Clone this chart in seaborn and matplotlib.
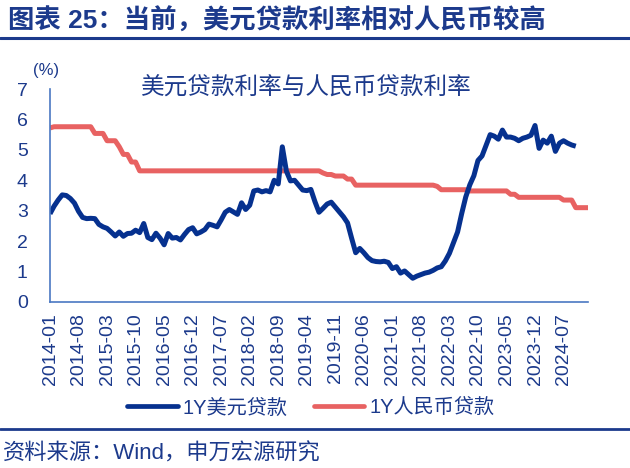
import numpy as np
import pandas as pd
import matplotlib
matplotlib.use("Agg")
import matplotlib.pyplot as plt
import seaborn as sns
from matplotlib.lines import Line2D

# ---------------- data ----------------
months = pd.date_range("2014-01-01", periods=133, freq="MS").strftime("%Y-%m").tolist()

usd_loan = [
    2.90, 3.15, 3.35, 3.52, 3.50, 3.40, 3.25, 2.98, 2.78, 2.74, 2.75, 2.74,   # 2014
    2.55, 2.47, 2.42, 2.30, 2.17, 2.30, 2.16, 2.25, 2.26, 2.36, 2.28, 2.58,   # 2015
    2.12, 2.05, 2.26, 2.10, 1.88, 2.25, 2.10, 2.12, 2.04, 2.22, 2.38, 2.44,   # 2016
    2.24, 2.30, 2.38, 2.56, 2.52, 2.47, 2.70, 2.95, 3.04, 2.96, 2.88, 3.26,   # 2017
    3.04, 3.18, 3.65, 3.68, 3.62, 3.66, 3.62, 4.00, 3.88, 5.10, 4.30, 3.98,   # 2018
    4.00, 3.84, 3.68, 3.66, 3.70, 3.30, 2.95, 3.08, 3.22, 3.28, 3.12, 2.96,   # 2019
    2.80, 2.60, 2.10, 1.62, 1.76, 1.62, 1.46, 1.36, 1.33, 1.32, 1.34, 1.30,   # 2020
    1.10, 1.16, 0.95, 1.02, 0.90, 0.78, 0.85, 0.90, 0.95, 0.98, 1.04, 1.12,   # 2021
    1.16, 1.35, 1.60, 1.95, 2.30, 2.90, 3.45, 3.85, 4.15, 4.65, 4.80, 5.15,   # 2022
    5.50, 5.45, 5.35, 5.65, 5.42, 5.42, 5.38, 5.30, 5.38, 5.42, 5.48, 5.80,   # 2023
    5.05, 5.32, 5.22, 5.45, 4.95, 5.22, 5.30, 5.22, 5.16, 5.12,               # 2024
]

cny_loan = [
    5.72, 5.76, 5.76, 5.76, 5.76, 5.76, 5.76, 5.76, 5.76, 5.76, 5.76, 5.54,   # 2014
    5.54, 5.54, 5.30, 5.30, 5.30, 5.10, 4.85, 4.85, 4.60, 4.60, 4.31, 4.31,   # 2015
    4.31, 4.31, 4.31, 4.31, 4.31, 4.31, 4.31, 4.31, 4.31, 4.31, 4.31, 4.31,   # 2016
    4.31, 4.31, 4.31, 4.31, 4.31, 4.31, 4.31, 4.31, 4.31, 4.31, 4.31, 4.31,   # 2017
    4.31, 4.31, 4.31, 4.31, 4.31, 4.31, 4.31, 4.31, 4.31, 4.31, 4.31, 4.31,   # 2018
    4.31, 4.31, 4.31, 4.31, 4.31, 4.31, 4.31, 4.24, 4.19, 4.19, 4.14, 4.14,   # 2019
    4.14, 4.04, 4.04, 3.84, 3.84, 3.84, 3.84, 3.84, 3.84, 3.84, 3.84, 3.84,   # 2020
    3.84, 3.84, 3.84, 3.84, 3.84, 3.84, 3.84, 3.84, 3.84, 3.84, 3.84, 3.80,   # 2021
    3.69, 3.69, 3.69, 3.69, 3.69, 3.69, 3.69, 3.65, 3.65, 3.65, 3.65, 3.65,   # 2022
    3.65, 3.65, 3.65, 3.65, 3.65, 3.54, 3.54, 3.44, 3.44, 3.44, 3.44, 3.44,   # 2023
    3.44, 3.44, 3.44, 3.44, 3.44, 3.44, 3.35, 3.35, 3.35, 3.10, 3.10, 3.10,   # 2024
    3.10,                                                                     # 2025
]

tick_labels = ["2014-01", "2014-08", "2015-03", "2015-10", "2016-05", "2016-12",
               "2017-07", "2018-02", "2018-09", "2019-04", "2019-11", "2020-06",
               "2021-01", "2021-08", "2022-03", "2022-10", "2023-05", "2023-12",
               "2024-07"]

series_names = ["1Y美元贷款", "1Y人民币贷款"]
main_title = "图表 25：当前，美元贷款利率相对人民币较高"
chart_title = "美元贷款利率与人民币贷款利率"
source_text = "资料来源：Wind，申万宏源研究"

# ---------------- style ----------------
NAVY = "#1C3A8C"
BLUE = "#06318F"
RED = "#E86262"
AXIS = "#4A78C2"

sns.set_theme(style="white")
plt.rcParams["font.family"] = ["Liberation Sans", "Noto Sans CJK SC", "DejaVu Sans"]

fig = plt.figure(figsize=(6.3, 4.68), dpi=100)
W, H = 630, 468
ax = fig.add_axes([50 / W, 1 - 302 / H, 538 / W, 213 / H])

df_usd = pd.DataFrame({"month": months[:len(usd_loan)], "val": usd_loan})
df_usd["pos"] = [months.index(m) for m in df_usd["month"]]
df_cny = pd.DataFrame({"month": months[:len(cny_loan)], "val": cny_loan})
df_cny["pos"] = [months.index(m) for m in df_cny["month"]]

sns.lineplot(data=df_cny, x="pos", y="val", color=RED, lw=3.6, ax=ax,
             legend=False, solid_capstyle="butt")
sns.lineplot(data=df_usd, x="pos", y="val", color=BLUE, lw=3.6, ax=ax,
             legend=False, solid_capstyle="butt")

ax.set_xlim(0, len(months) - 1)
ax.set_ylim(0, 7)
ax.set_yticks(range(0, 8))
ax.set_xticks([months.index(t) for t in tick_labels])
ax.set_xticklabels(tick_labels, rotation=90)
ax.set_xlabel("")
ax.set_ylabel("")

for s in ["top", "right"]:
    ax.spines[s].set_visible(False)
for s in ["left", "bottom"]:
    ax.spines[s].set_color(AXIS)
    ax.spines[s].set_linewidth(1.2)

ax.tick_params(axis="both", direction="out", length=6, width=1.2, color=AXIS,
               labelcolor=NAVY, labelsize=14)
ax.tick_params(axis="y", pad=10)
ax.tick_params(axis="x", pad=2)
ax.set_facecolor("white")

# texts
fig.text(8 / W, 1 - 21 / H, main_title, fontsize=19, fontweight="bold",
         color=NAVY, ha="left", va="center")
fig.add_artist(Line2D([0, 1], [1 - 38 / H, 1 - 38 / H], transform=fig.transFigure,
                      color=NAVY, lw=2.2))
fig.text(46 / W, 1 - 70 / H, "(%)", fontsize=12, color=NAVY, ha="center", va="center")
fig.text(306 / W, 1 - 88 / H, chart_title, fontsize=17, color=NAVY,
         ha="center", va="center")

handles = [Line2D([0], [0], color=BLUE, lw=3.4), Line2D([0], [0], color=RED, lw=3.4)]
leg = fig.legend(handles, series_names, loc="center", bbox_to_anchor=(311 / W, 1 - 408 / H),
                 ncol=2, frameon=False, fontsize=14.5, handlelength=2.5,
                 handletextpad=0.25, columnspacing=1.3)
for t in leg.get_texts():
    t.set_color(NAVY)

fig.add_artist(Line2D([0, 1], [1 - 429 / H, 1 - 429 / H], transform=fig.transFigure,
                      color=NAVY, lw=2.0))
fig.text(3 / W, 1 - 454 / H, source_text, fontsize=16, color=NAVY,
         ha="left", va="center")

fig.savefig("out.png", dpi=100, facecolor="white")
